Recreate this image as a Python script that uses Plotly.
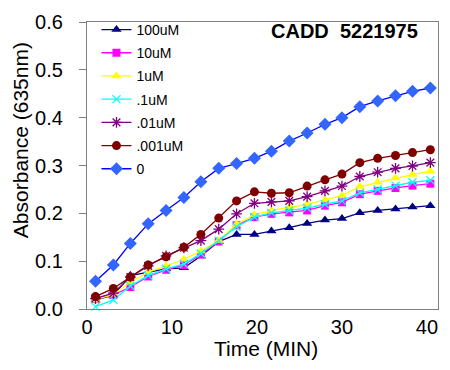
import plotly.graph_objects as go

time_min = [1.0, 3.1, 5.1, 7.2, 9.3, 11.4, 13.4, 15.5, 17.6, 19.7,
            21.7, 23.8, 25.9, 28.0, 30.0, 32.1, 34.2, 36.3, 38.3, 40.4]

s_100uM = [0.019, 0.029, 0.070, 0.077, 0.084, 0.086, 0.111, 0.141, 0.156, 0.156,
           0.163, 0.170, 0.179, 0.186, 0.189, 0.201, 0.206, 0.209, 0.213, 0.216]
s_10uM = [0.022, 0.029, 0.046, 0.068, 0.082, 0.092, 0.114, 0.141, 0.175, 0.192,
          0.199, 0.202, 0.206, 0.216, 0.223, 0.240, 0.247, 0.253, 0.258, 0.262]
s_1uM = [0.019, 0.031, 0.056, 0.077, 0.090, 0.104, 0.121, 0.143, 0.177, 0.197,
         0.206, 0.213, 0.219, 0.228, 0.237, 0.256, 0.265, 0.274, 0.281, 0.288]
s_01uM = [0.005, 0.019, 0.048, 0.070, 0.084, 0.094, 0.116, 0.143, 0.172, 0.192,
          0.201, 0.206, 0.211, 0.219, 0.226, 0.243, 0.250, 0.258, 0.265, 0.269]
s_001uM = [0.022, 0.033, 0.067, 0.090, 0.111, 0.128, 0.143, 0.167, 0.199, 0.221,
           0.224, 0.226, 0.235, 0.247, 0.257, 0.277, 0.286, 0.294, 0.299, 0.306]
s_0001uM = [0.026, 0.043, 0.067, 0.092, 0.109, 0.129, 0.156, 0.190, 0.226, 0.245,
            0.242, 0.243, 0.257, 0.270, 0.282, 0.306, 0.315, 0.321, 0.327, 0.333]
s_0 = [0.058, 0.092, 0.137, 0.178, 0.206, 0.233, 0.266, 0.294, 0.304, 0.315,
       0.330, 0.351, 0.368, 0.386, 0.400, 0.423, 0.435, 0.446, 0.455, 0.462]

series_names = ["100uM", "10uM", "1uM", ".1uM", ".01uM", ".001uM", "0"]
series_values = [s_100uM, s_10uM, s_1uM, s_01uM, s_001uM, s_0001uM, s_0]
line_colors = ["#000080", "#FF00FF", "#FFFF00", "#00FFFF", "#800080", "#800000", "#0000FF"]
marker_colors = ["#000080", "#FF00FF", "#FFFF00", "#00FFFF", "#800080", "#800000", "#3366FF"]
symbols = ["triangle-up", "square", "triangle-up", "x-thin", "asterisk-open", "circle", "diamond"]
sizes = [9, 8, 9, 8, 9, 9, 10]

fig = go.Figure()
for i, (name, vals) in enumerate(zip(series_names, series_values)):
    sym = symbols[i]
    marker = dict(symbol=sym, size=sizes[i], color=marker_colors[i])
    if sym in ("x-thin", "asterisk-open"):
        marker["line"] = dict(color=marker_colors[i], width=1.3)
    else:
        marker["line"] = dict(width=0)
    fig.add_trace(go.Scatter(
        x=time_min, y=vals, name=name, mode="lines+markers",
        line=dict(color=line_colors[i], width=1.3),
        marker=marker, cliponaxis=False, legendgroup=name,
    ))

fig.update_layout(
    width=450, height=370,
    margin=dict(l=87, r=11, t=15, b=61),
    paper_bgcolor="white", plot_bgcolor="white",
    font=dict(family="Liberation Sans, Arial, sans-serif", color="black"),
    showlegend=True,
    legend=dict(x=0.027, y=1.028, xanchor="left", yanchor="top",
                font=dict(size=14), bgcolor="rgba(0,0,0,0)",
                tracegroupgap=2, itemwidth=30),
    xaxis=dict(range=[0, 41.3], tickvals=[0, 10, 20, 30, 40],
               showgrid=False, zeroline=False, showline=True, mirror=True,
               linecolor="#808080", linewidth=1.3, ticks="",
               tickfont=dict(size=20)),
    yaxis=dict(range=[0, 0.6], tickvals=[0, 0.1, 0.2, 0.3, 0.4, 0.5, 0.6],
               tickformat=".1f",
               showgrid=False, zeroline=False, showline=True, mirror=True,
               linecolor="#808080", linewidth=1.3, ticks="outside",
               ticklen=7, tickcolor="#808080", tickfont=dict(size=20),
               ticklabelstandoff=12),
    annotations=[
        dict(text="<b>CADD  5221975</b>", x=0.733, y=0.969, xref="paper", yref="paper",
             showarrow=False, font=dict(size=20), xanchor="center", yanchor="middle"),
        dict(text="Time (MIN)", x=0.511, y=-0.138, xref="paper", yref="paper",
             showarrow=False, font=dict(size=21), xanchor="center", yanchor="middle"),
        dict(text="Absorbance (635nm)", x=-0.1875, y=0.589, xref="paper", yref="paper",
             showarrow=False, font=dict(size=21), textangle=-90,
             xanchor="center", yanchor="middle"),
    ],
)

fig.write_html("out.html", config={"displayModeBar": False},
               post_script="document.body.style.margin='0';")
